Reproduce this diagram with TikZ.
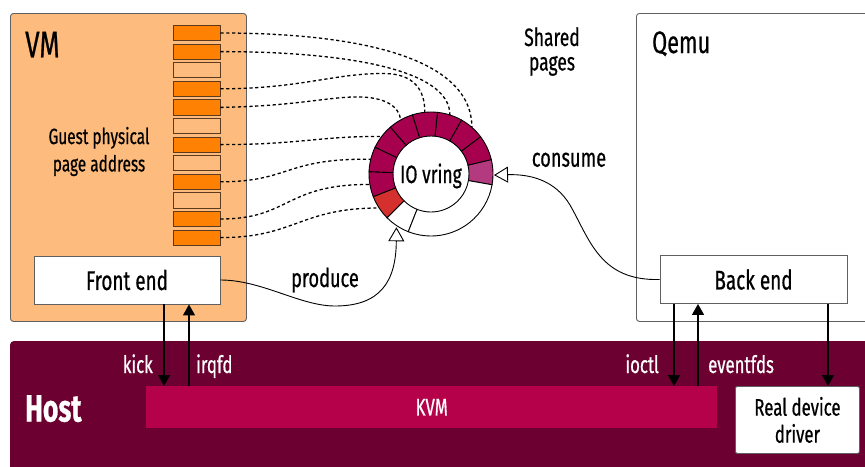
\documentclass[tikz,border=0pt]{standalone}
\usepackage{fontspec}
\setmainfont{Fira Sans}[FakeStretch=0.7,FakeBold=0.6]
\usetikzlibrary{arrows.meta,calc}
\definecolor{vmbg}{HTML}{FDBB7D}
\definecolor{pgdark}{HTML}{FF8103}
\definecolor{pgline}{HTML}{5B3A1E}
\definecolor{hostc}{HTML}{6C0031}
\definecolor{kvmc}{HTML}{B5004A}
\definecolor{ringdark}{HTML}{A7004E}
\definecolor{ringmag}{HTML}{B43A80}
\definecolor{ringred}{HTML}{D3302E}
\definecolor{boxline}{HTML}{606060}
\begin{document}
\begin{tikzpicture}[x=1pt,y=-1pt,
  pg/.style={draw=pgline, line width=0.9pt, minimum width=47pt, minimum height=15.3pt, inner sep=0pt},
  wbox/.style={draw=boxline, fill=white, line width=0.9pt, inner sep=0pt, font=\fontsize{27}{30}\selectfont},
  lbl/.style={inner sep=0pt, font=\fontsize{26}{28}\selectfont},
  smlbl/.style={inner sep=0pt, text=white, font=\fontsize{24}{26}\selectfont},
  dsh/.style={line width=1.3pt, dash pattern=on 3.2pt off 2.6pt},
  arr/.style={line width=1.3pt, -{Triangle[length=11pt,width=12pt]}},
  oarr/.style={line width=0.9pt, -{Triangle[fill=white,length=14pt,width=16pt]}},
]
\useasboundingbox (0,0) rectangle (865,466);

% Host band
\fill[hostc, rounded corners=4pt] (10,341) rectangle (900,500);
\node[anchor=base west, inner sep=0pt, text=white, font=\fontsize{38}{40}\bfseries\selectfont] (hostl) at (25,421.5) {Host};
\node[fill=kvmc, minimum width=571pt, minimum height=42pt, inner sep=0pt, anchor=north west, text=white, font=\fontsize{24}{26}\selectfont] (kvm) at (146,386) {KVM};
\node[wbox, rounded corners=2pt, minimum width=124pt, minimum height=67pt, anchor=north west, align=center, font=\fontsize{24}{27}\selectfont] (rdd) at (735,386) {Real device\\driver};

% VM box
\node[draw=boxline, fill=vmbg, line width=0.9pt, rounded corners=3pt, minimum width=236pt, minimum height=308pt, anchor=north west, inner sep=0pt] (vm) at (10,13) {};
\node[anchor=base west, inner sep=0pt, font=\fontsize{37}{40}\selectfont] (vml) at (25,57.3) {VM};
\node[lbl, align=center, font=\fontsize{22}{27.4}\selectfont] (gpa) at (99,151.5) {Guest physical\\page address};

% page rectangles
\foreach \i/\c in {0/pgdark,1/pgdark,2/vmbg,3/pgdark,4/pgdark,5/vmbg,6/pgdark,7/vmbg,8/pgdark,9/vmbg,10/pgdark,11/pgdark} {
  \node[pg, fill=\c] (p\i) at (196.5,{33+18.6*\i}) {};
}

\node[wbox, minimum width=186pt, minimum height=48pt] (fe) at (127,280) {Front end};

% Qemu box
\node[draw=boxline, fill=white, line width=0.9pt, rounded corners=3pt, minimum width=270pt, minimum height=308pt, anchor=north west, inner sep=0pt] (qemu) at (636,13) {};
\node[anchor=base west, inner sep=0pt, font=\fontsize{31}{34}\selectfont] (qemul) at (652,53) {Qemu};
\node[wbox, minimum width=187pt, minimum height=48pt] (be) at (753.5,279.5) {Back end};

% labels
\node[lbl, align=center, font=\fontsize{25}{24.5}\selectfont] (shared) at (552,51.5) {Shared\\pages};
\node[lbl, anchor=base] (consl) at (569,166.7) {consume};
\node[lbl, anchor=base] (prodl) at (325,287) {produce};

% ring coordinates
\begin{scope}[shift={(431,174)}, yscale=-1]
  \coordinate (rc) at (0,0);
  \foreach \k in {2,...,9} {
    \pgfmathsetmacro\m{-10+23.5*\k+11.75}
    \coordinate (e\k) at (\m:62);
  }
  \coordinate (prodtip) at (237:63.5);
  \coordinate (constip) at (-1:63);
\end{scope}

% dashed links
\draw[dsh] (p0.east) .. controls (360,33) and (472,58) .. (e2);
\draw[dsh] (p1.east) .. controls (340,51.6) and (450,68) .. (e3);
\draw[dsh] (p3.east) .. controls (300,88.8) and (335,73) .. (385,73.5) .. controls (414,74) and (425,90) .. (e4);
\draw[dsh] (p4.east) .. controls (300,106) and (330,96) .. (362,97) .. controls (385,98) and (399,106) .. (e5);
\draw[dsh] (p6.east) .. controls (300,144.6) and (320,136) .. (e6);
\draw[dsh] (p8.east) .. controls (290,181.8) and (285,158) .. (e7);
\draw[dsh] (p10.east) .. controls (290,219) and (285,184) .. (e8);
\draw[dsh] (p11.east) .. controls (295,237.6) and (300,208) .. (e9);

% ring
\begin{scope}[shift={(431,174)}, yscale=-1]
  \foreach \k/\c in {0/ringmag,1/ringdark,2/ringdark,3/ringdark,4/ringdark,5/ringdark,6/ringdark,7/ringdark,8/ringdark,9/ringred,10/white} {
    \pgfmathsetmacro\a{-10+23.5*\k}
    \pgfmathsetmacro\b{\a+23.5}
    \filldraw[fill=\c, draw=black, line width=0.9pt] (\a:62) arc[start angle=\a, end angle=\b, radius=62] -- (\b:38) arc[start angle=\b, end angle=\a, radius=38] -- cycle;
  }
  \filldraw[fill=white, draw=black, line width=0.9pt] (248.5:62) arc[start angle=248.5, end angle=350, radius=62] -- (350:38) arc[start angle=350, end angle=248.5, radius=38] -- cycle;
\end{scope}
\node[inner sep=0pt, anchor=base, font=\fontsize{25}{27}\selectfont] (ring) at (431,183) {IO vring};

% produce / consume
\draw[oarr] (fe.east) .. controls (262,280) and (300,306) .. (335,306) .. controls (380,306) and (396,282) .. (prodtip);
\draw[oarr] (be.west) .. controls (600,281) and (590,240) .. (570,205) .. controls (555,180) and (530,174) .. (constip);

% vertical connectors
\coordinate (xk) at (164,0);
\coordinate (xi) at (189,0);
\coordinate (xo) at (674,0);
\coordinate (xe) at (698,0);
\coordinate (xd) at (828,0);
\draw[arr] (fe.south -| xk) -- (kvm.north -| xk);
\draw[arr] (kvm.north -| xi) -- (fe.south -| xi);
\draw[arr] (be.south -| xo) -- (kvm.north -| xo);
\draw[arr] (kvm.north -| xe) -- (be.south -| xe);
\draw[arr] (be.south -| xd) -- (rdd.north -| xd);

\node[smlbl, anchor=base east] (kick) at (153,373) {kick};
\node[smlbl, anchor=base west] (irqfd) at (196,373) {irqfd};
\node[smlbl, anchor=base east] (ioctl) at (659,373) {ioctl};
\node[smlbl, anchor=base west] (evfd) at (708,373) {eventfds};
\end{tikzpicture}
\end{document}
